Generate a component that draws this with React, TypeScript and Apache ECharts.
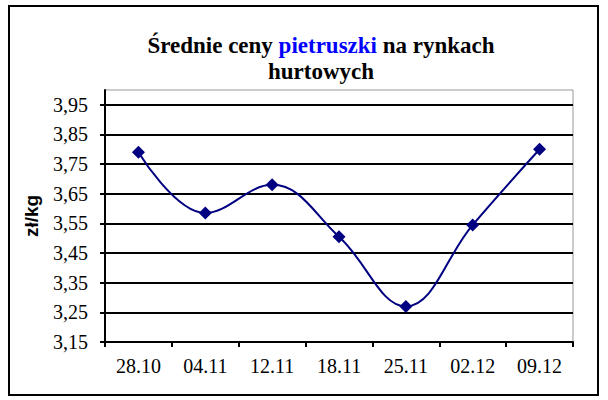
import React, { useEffect, useRef } from "react";
import * as echarts from "echarts";

const categories = ["28.10", "04.11", "12.11", "18.11", "25.11", "02.12", "09.12"];
const prices = [3.79, 3.585, 3.68, 3.505, 3.27, 3.545, 3.8];
const yTickValues = [3.15, 3.25, 3.35, 3.45, 3.55, 3.65, 3.75, 3.85, 3.95];
const titleLine1 = ["Średnie ceny ", "pietruszki", " na rynkach"];
const titleLine2 = "hurtowych";
const yAxisName = "zł/kg";

export default function App() {
  const ref = useRef<HTMLDivElement>(null);
  useEffect(() => {
    document.body.style.margin = "0";
    const chart = echarts.init(ref.current!, null, { renderer: "svg" });
    const serif = "Liberation Serif";
    chart.setOption({
      animation: false,
      backgroundColor: "#fff",
      title: {
        text: `{t|${titleLine1[0]}}{p|${titleLine1[1]}}{t|${titleLine1[2]}}\n{t|${titleLine2}}`,
        left: 316,
        top: 27,
        textAlign: "center",
        textStyle: {
          fontFamily: serif,
          fontWeight: "bold",
          fontSize: 23,
          color: "#000",
          lineHeight: 26,
          rich: {
            t: { fontFamily: serif, fontWeight: "bold", fontSize: 23, color: "#000", lineHeight: 26 },
            p: { fontFamily: serif, fontWeight: "bold", fontSize: 23, color: "#0000FF", lineHeight: 26 },
          },
        },
      },
      graphic: [
        {
          type: "rect",
          shape: { x: 9, y: 6, width: 589, height: 389 },
          style: { fill: "none", stroke: "#000", lineWidth: 2 },
          z: 100,
        },
      ],
      grid: {
        left: 105,
        right: 35,
        top: 90,
        bottom: 58,
        show: true,
        borderColor: "#999",
        borderWidth: 1,
        backgroundColor: "#fff",
      },
      xAxis: {
        type: "category",
        data: categories,
        boundaryGap: true,
        axisLine: { lineStyle: { color: "#000", width: 2 } },
        axisTick: { show: true, alignWithLabel: false, length: 5, lineStyle: { color: "#000", width: 2 } },
        axisLabel: { fontFamily: serif, fontSize: 20, color: "#000", margin: 14 },
        splitLine: { show: false },
      },
      yAxis: {
        type: "value",
        min: 3.15,
        max: 4.0,
        interval: 0.1,
        name: yAxisName,
        nameLocation: "middle",
        nameGap: 64,
        nameTextStyle: { fontFamily: "Liberation Sans", fontWeight: "bold", fontSize: 19, color: "#000" },
        axisLine: { show: true, lineStyle: { color: "#000", width: 2 } },
        axisTick: { show: true, length: 5, customValues: yTickValues, lineStyle: { color: "#000", width: 2 } },
        axisLabel: {
          fontFamily: serif,
          fontSize: 20,
          color: "#000",
          margin: 17,
          customValues: yTickValues,
          formatter: (v: number) => v.toFixed(2).replace(".", ","),
        },
        splitLine: {
          show: true,
          lineStyle: {
            color: ["#000", "#000", "#000", "#000", "#000", "#000", "#000", "#000", "#000", "#999"],
            width: 2,
          },
        },
      },
      series: [
        {
          type: "line",
          data: prices,
          smooth: 0.4,
          symbol: "diamond",
          symbolSize: 13,
          itemStyle: { color: "#000080" },
          lineStyle: { color: "#000080", width: 2 },
        },
      ],
    });
    return () => chart.dispose();
  }, []);
  return <div ref={ref} style={{ position: "absolute", left: 0, top: 0, width: 608, height: 400 }} />;
}
